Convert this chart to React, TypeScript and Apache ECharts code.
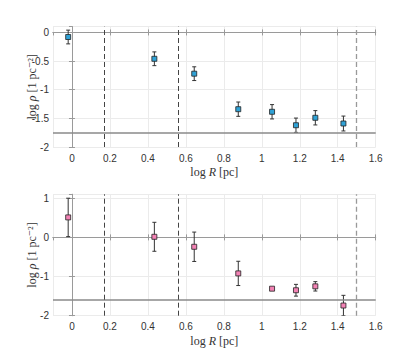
import React, { useEffect, useRef } from "react";
import * as echarts from "echarts";

const logR = [-0.02, 0.434, 0.644, 0.876, 1.054, 1.18, 1.282, 1.43];
const topRho = [-0.08, -0.46, -0.72, -1.34, -1.385, -1.62, -1.49, -1.59];
const topErr = [0.12, 0.12, 0.12, 0.125, 0.125, 0.125, 0.125, 0.13];
const bottomRho = [0.51, 0.015, -0.24, -0.92, -1.31, -1.35, -1.25, -1.74];
const bottomErr = [0.49, 0.37, 0.375, 0.31, 0.02, 0.15, 0.12, 0.26];
const darkDashX = [0.165, 0.557];
const lightDashX = [1.5];
const topFloor = -1.75;
const bottomFloor = -1.58;

const SANS = "'Liberation Sans', Arial, sans-serif";
const SERIF = "'Liberation Serif', 'DejaVu Serif', serif";

function App() {
  const ref = useRef<HTMLDivElement>(null);
  useEffect(() => {
    if (!ref.current) return;
    const chart = echarts.init(ref.current, null, { renderer: "svg" });
    const axisLine = { show: true, lineStyle: { color: "#9a9a9a", width: 1 } };
    const axisTick = { show: true, inside: true, length: 3, lineStyle: { color: "#9a9a9a" } };
    const splitLine = { show: true, lineStyle: { color: "#ebebeb", width: 1 } };
    const labelStyle = { fontFamily: SANS, fontSize: 10, color: "#333" };

    const xMain = (gridIndex: number) => ({
      type: "value",
      gridIndex,
      position: "bottom",
      min: -0.1,
      max: 1.6,
      splitNumber: 8,
      minInterval: 0.2,
      maxInterval: 0.2,
      axisLine,
      axisTick,
      splitLine,
      axisLabel: { ...labelStyle, margin: 6, showMinLabel: false },
      name: "{a|log }{b|R}{a| [pc]}",
      nameLocation: "middle",
      nameGap: 19,
      nameMoveOverlap: false,
      nameTextStyle: {
        rich: {
          a: { fontFamily: SERIF, fontSize: 12, color: "#333" },
          b: { fontFamily: SERIF, fontSize: 12, fontStyle: "italic", color: "#333" },
        },
      },
    });
    const xTop = (gridIndex: number) => ({
      type: "value",
      gridIndex,
      position: "top",
      min: -0.1,
      max: 1.6,
      splitNumber: 8,
      minInterval: 0.2,
      maxInterval: 0.2,
      axisLine,
      axisTick,
      splitLine: { show: false },
      axisLabel: { show: false },
    });
    const yMain = (gridIndex: number, min: number, max: number, interval: number) => ({
      type: "value",
      gridIndex,
      position: "left",
      min,
      max,
      interval,
      axisLine,
      axisTick,
      splitLine,
      axisLabel: { ...labelStyle, margin: 4, showMaxLabel: false },
      name: "{a|log }{b|ρ}{a| [1 pc⁻²]}",
      nameLocation: "middle",
      nameRotate: 90,
      nameGap: 15,
      nameMoveOverlap: false,
      nameTextStyle: {
        rich: {
          a: { fontFamily: SERIF, fontSize: 12, color: "#333" },
          b: { fontFamily: SERIF, fontSize: 12, fontStyle: "italic", color: "#333" },
        },
      },
    });
    const yRight = (gridIndex: number, min: number, max: number, interval: number) => ({
      type: "value",
      gridIndex,
      position: "right",
      min,
      max,
      interval,
      axisLine,
      axisTick,
      splitLine: { show: false },
      axisLabel: { show: false },
    });

    const errSeries = (xi: number, yi: number, ys: number[], errs: number[]) => ({
      type: "custom",
      xAxisIndex: xi,
      yAxisIndex: yi,
      clip: true,
      z: 3,
      data: logR.map((x, i) => [x, ys[i] - errs[i], ys[i] + errs[i]]),
      renderItem: (params: any, api: any) => {
        const lo = api.coord([api.value(0), api.value(1)]);
        const hi = api.coord([api.value(0), api.value(2)]);
        const w = 2;
        const style = { stroke: "#333", lineWidth: 1 };
        return {
          type: "group",
          children: [
            { type: "line", shape: { x1: lo[0], y1: lo[1], x2: hi[0], y2: hi[1] }, style },
            { type: "line", shape: { x1: lo[0] - w, y1: lo[1], x2: lo[0] + w, y2: lo[1] }, style },
            { type: "line", shape: { x1: hi[0] - w, y1: hi[1], x2: hi[0] + w, y2: hi[1] }, style },
          ],
        };
      },
    });

    const markLines = (floor: number) => ({
      silent: true,
      symbol: "none",
      label: { show: false },
      animation: false,
      data: [
        { yAxis: floor, lineStyle: { color: "#8a8a8a", width: 1.5, type: "solid" } },
        ...darkDashX.map((x) => ({ xAxis: x, lineStyle: { color: "#444", width: 1, type: [5, 3] } })),
        ...lightDashX.map((x) => ({ xAxis: x, lineStyle: { color: "#999", width: 1.3, type: [5, 3] } })),
      ],
    });

    const scatter = (xi: number, yi: number, ys: number[], color: string, floor: number) => ({
      type: "scatter",
      xAxisIndex: xi,
      yAxisIndex: yi,
      symbol: "rect",
      symbolSize: 5,
      z: 4,
      itemStyle: { color, borderColor: "#222", borderWidth: 0.8, opacity: 1 },
      data: logR.map((x, i) => [x, ys[i]]),
      markLine: markLines(floor),
    });

    chart.setOption({
      animation: false,
      backgroundColor: "#fff",
      grid: [
        { left: 53, width: 322.7, top: 26.7, height: 120.3 },
        { left: 53, width: 322.7, top: 194.3, height: 121.4 },
      ],
      xAxis: [xMain(0), xTop(0), xMain(1), xTop(1)],
      yAxis: [yMain(0, -2, 0.1, 0.5), yRight(0, -2, 0.1, 0.5), yMain(1, -2, 1.1, 1), yRight(1, -2, 1.1, 1)],
      series: [
        errSeries(0, 0, topRho, topErr),
        scatter(0, 0, topRho, "#30a2d6", topFloor),
        errSeries(2, 2, bottomRho, bottomErr),
        scatter(2, 2, bottomRho, "#f282b4", bottomFloor),
      ],
    });
    return () => chart.dispose();
  }, []);
  return (
    <div
      ref={ref}
      style={{ position: "fixed", left: 0, top: 0, width: 415, height: 355, background: "#fff" }}
    />
  );
}

export default App;
